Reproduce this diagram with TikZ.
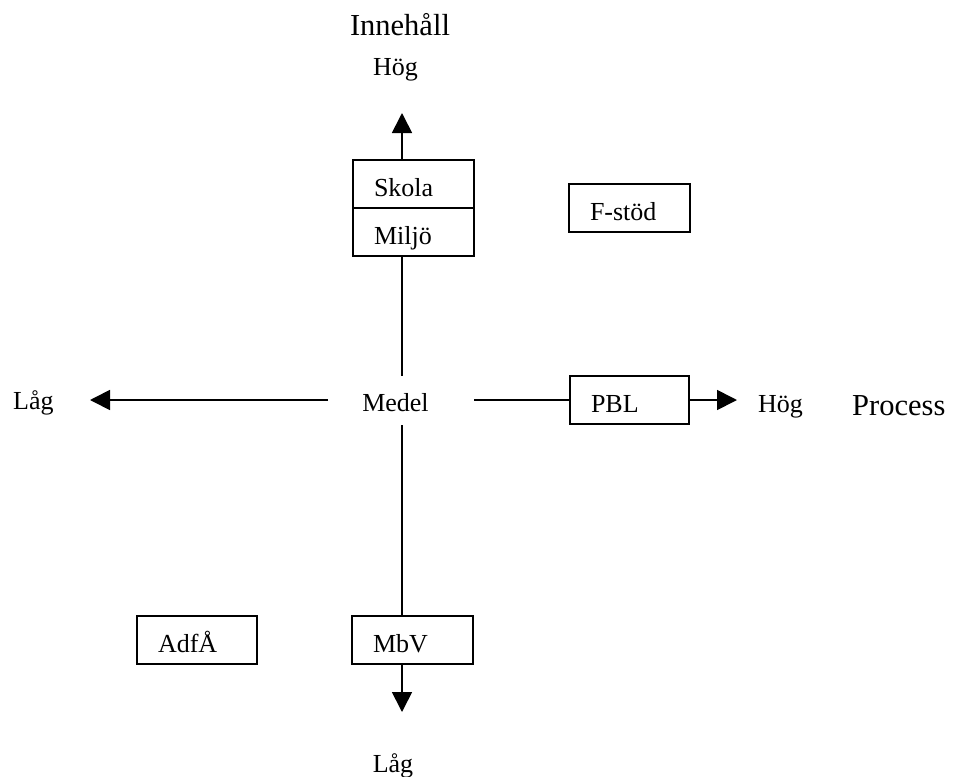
\documentclass[tikz,border=0pt]{standalone}
\usepackage{fontspec}
\setmainfont{Liberation Serif}
\usetikzlibrary{arrows.meta}
\begin{document}
\begin{tikzpicture}[x=1pt,y=-1pt,
  axisline/.style={line width=1.7pt},
  arrowline/.style={line width=1.7pt,-{Triangle[length=20pt,width=20pt]}},
  boxnode/.style={draw,line width=1.6pt,minimum height=48pt,inner xsep=21pt,
    inner ysep=0pt,align=left,text height=24pt,text depth=0pt,
    font=\fontsize{26}{30}\selectfont},
  small/.style={inner sep=0pt,font=\fontsize{26}{30}\selectfont},
  large/.style={inner sep=0pt,font=\fontsize{30.5}{34}\selectfont}]
  \useasboundingbox (0,0) rectangle (954,777);

  % vertical axis position
  \coordinate (ax) at (402,0);

  % boxes
  \node[boxnode,text width=79pt] (skola) at (413.5,184) {Skola};
  \node[boxnode,text width=79pt] (miljo) at (413.5,232) {Miljö};
  \node[boxnode,text width=79pt] (fstod) at (629.5,208) {F-stöd};
  \node[boxnode,text width=77pt] (pbl)   at (629.5,400) {PBL};
  \node[boxnode,text width=79pt] (mbv)   at (412.5,640) {MbV};
  \node[boxnode,text width=78pt] (adfa)  at (197,640)   {AdfÅ};

  % centre label and axis labels
  \node[small,anchor=base] (medel) at (395.5,411) {Medel};
  \node[large,anchor=base] (innehall) at (400,35) {Innehåll};
  \node[small,anchor=base] (hogtop) at (395.5,75) {Hög};
  \node[small,anchor=base west] (lagleft) at (13,409) {Låg};
  \node[small,anchor=base west] (hogright) at (758,412) {Hög};
  \node[large,anchor=base west] (process) at (852,415) {Process};
  \node[small,anchor=base] (lagbottom) at (393,772) {Låg};

  % axis end points
  \coordinate (uptip) at (402,113);
  \coordinate (downtip) at (402,712);
  \coordinate (lefttip) at (90,400);
  \coordinate (righttip) at (737,400);
  \coordinate (vtop) at (402,376);
  \coordinate (vbot) at (402,425);
  \coordinate (hl) at (328,400);
  \coordinate (hr) at (474,400);

  % vertical axis
  \draw[arrowline] (ax |- skola.north) -- (uptip);
  \draw[axisline] (ax |- miljo.south) -- (vtop);
  \draw[axisline] (vbot) -- (ax |- mbv.north);
  \draw[arrowline] (ax |- mbv.south) -- (downtip);

  % horizontal axis
  \draw[arrowline] (hl) -- (lefttip);
  \draw[axisline] (hr) -- (pbl.west);
  \draw[arrowline] (pbl.east) -- (righttip);
\end{tikzpicture}
\end{document}
